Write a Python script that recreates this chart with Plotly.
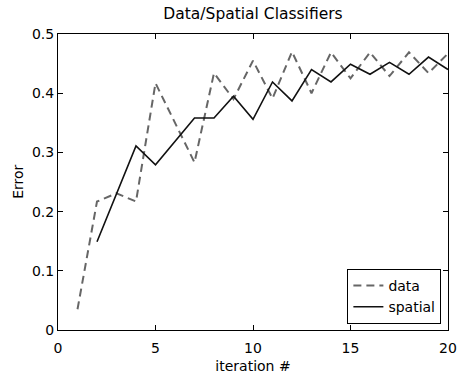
import plotly.graph_objects as go

iterations = list(range(1, 21))
data_err = [0.035, 0.217, 0.231, 0.217, 0.417, 0.350, 0.283, 0.434, 0.390, 0.455,
            0.391, 0.470, 0.400, 0.469, 0.425, 0.469, 0.429, 0.469, 0.434, 0.467]
spatial_iter = list(range(2, 21))
spatial_err = [0.149, 0.231, 0.311, 0.279, 0.318, 0.358, 0.358, 0.395, 0.356,
               0.419, 0.387, 0.440, 0.419, 0.449, 0.432, 0.452, 0.432, 0.461, 0.440]

x_ticks = [0, 5, 10, 15, 20]
y_ticks = [0, 0.1, 0.2, 0.3, 0.4, 0.5]
y_tick_text = ["0", "0.1", "0.2", "0.3", "0.4", "0.5"]

font = "DejaVu Sans, Liberation Sans, sans-serif"

fig = go.Figure()
fig.add_trace(go.Scatter(x=iterations, y=data_err, mode="lines", name="data",
                         line=dict(color="#666666", width=2, dash="8px,5px")))
fig.add_trace(go.Scatter(x=spatial_iter, y=spatial_err, mode="lines", name="spatial",
                         line=dict(color="#111111", width=1.6)))

axis_common = dict(showline=True, linecolor="black", linewidth=1, mirror="ticks",
                   ticks="inside", ticklen=5, tickcolor="black", showgrid=False,
                   zeroline=False, ticklabeloverflow="allow",
                   tickfont=dict(family=font, size=14, color="black"))

fig.update_layout(
    template="none",
    width=457, height=378,
    margin=dict(l=58, r=9, t=34, b=48, pad=0),
    paper_bgcolor="white", plot_bgcolor="white",
    title=dict(text="Data/Spatial Classifiers", xref="paper", x=0.5, xanchor="center",
               yref="container", y=0.963, yanchor="middle",
               font=dict(family=font, size=15.5, color="black")),
    xaxis=dict(range=[0, 20], tickvals=x_ticks, ticktext=[str(t) for t in x_ticks],
               ticklabelstandoff=5,
               title=dict(text="iteration #", font=dict(family=font, size=14, color="black"), standoff=6),
               **axis_common),
    yaxis=dict(range=[0, 0.5], tickvals=y_ticks, ticktext=y_tick_text,
               **axis_common),
    annotations=[dict(text="Error", xref="paper", yref="paper", x=-0.103, y=0.5,
                      xanchor="center", yanchor="middle", textangle=-90, showarrow=False,
                      font=dict(family=font, size=14, color="black"))],
    legend=dict(x=0.742, y=0.206, xanchor="left", yanchor="top", bgcolor="white",
                bordercolor="black", borderwidth=1,
                font=dict(family=font, size=14, color="black"), tracegroupgap=0,
                itemwidth=30),
    showlegend=True,
)

fig.write_html("out.html", config={"displayModeBar": False},
               post_script="document.body.style.margin='0px';")
